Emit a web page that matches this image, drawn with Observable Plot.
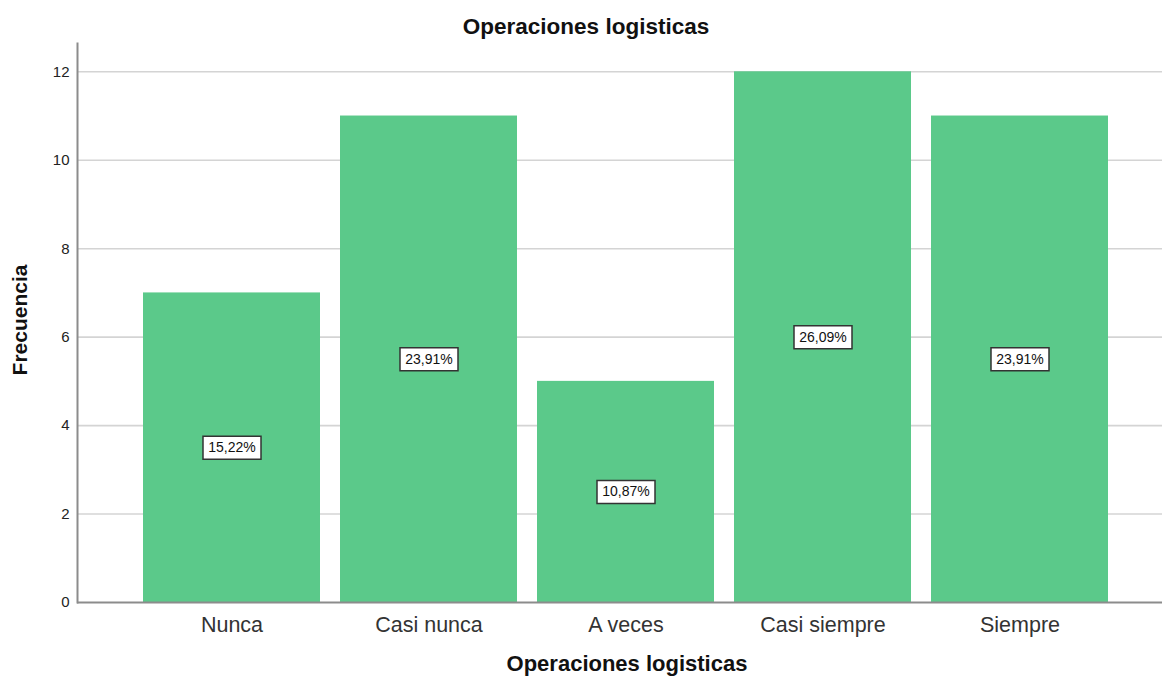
<!DOCTYPE html>
<html>
<head>
<meta charset="utf-8">
<script src="https://cdn.jsdelivr.net/npm/d3@7"></script>
<script src="https://cdn.jsdelivr.net/npm/@observablehq/plot@0.6"></script>
<style>
  html, body { margin: 0; padding: 0; background: #fff; }
  #chart svg { display: block; }
</style>
</head>
<body>
<div id="chart"></div>
<script>
const categories = ["Nunca", "Casi nunca", "A veces", "Casi siempre", "Siempre"];
const frequencies = [7, 11, 5, 12, 11];
const percentLabels = ["15,22%", "23,91%", "10,87%", "26,09%", "23,91%"];
const yTicks = [0, 2, 4, 6, 8, 10, 12];
const gridTicks = [2, 4, 6, 8, 10, 12];
const chartTitle = "Operaciones logisticas";
const xTitle = "Operaciones logisticas";
const yTitle = "Frecuencia";

const data = categories.map((c, i) => ({cat: c, freq: frequencies[i], pct: percentLabels[i]}));

const boxSymbol = {
  draw(context) {
    context.rect(-29, -11.5, 58, 23);
  }
};

const font = "'Liberation Sans', Arial, sans-serif";

const chart = Plot.plot({
  width: 1162,
  height: 682,
  marginTop: 43,
  marginBottom: 80,
  marginLeft: 77,
  marginRight: 0,
  style: {fontFamily: font, color: "#222", background: "#fff"},
  x: {domain: categories, range: [131.6, 1120.4], paddingInner: 0.1, paddingOuter: 0.05},
  y: {domain: [0, 12.64]},
  marks: [
    Plot.ruleY(gridTicks, {stroke: "#d4d4d4", strokeWidth: 1.6}),
    Plot.barY(data, {x: "cat", y: "freq", fill: "#5bc98a"}),
    Plot.frame({anchor: "left", stroke: "#8c8c8c", strokeWidth: 2}),
    Plot.ruleY([0], {stroke: "#8c8c8c", strokeWidth: 2}),
    Plot.axisY({ticks: yTicks, tickSize: 0, tickPadding: 8, fontSize: 15, label: null, tickFormat: d => String(d)}),
    Plot.axisX({tickSize: 0, tickPadding: 14, fontSize: 21.5, label: null, fill: "#333"}),
    Plot.dot(data, {x: "cat", y: d => d.freq / 2, symbol: boxSymbol, fill: "#fff", stroke: "#333", strokeWidth: 1.5}),
    Plot.text(data, {x: "cat", y: d => d.freq / 2, text: "pct", fontSize: 14, fill: "#111"}),
    Plot.text([chartTitle], {frameAnchor: "top", dx: -34, dy: -25, fontSize: 22.5, fontWeight: "bold", fill: "#111"}),
    Plot.text([xTitle], {frameAnchor: "bottom", dx: 7, dy: 68, fontSize: 22, fontWeight: "bold", fill: "#111"}),
    Plot.text([yTitle], {frameAnchor: "left", textAnchor: "middle", rotate: -90, dx: -57, dy: -3, fontSize: 21, fontWeight: "bold", fill: "#111"})
  ]
});

document.getElementById("chart").appendChild(chart);
</script>
</body>
</html>
